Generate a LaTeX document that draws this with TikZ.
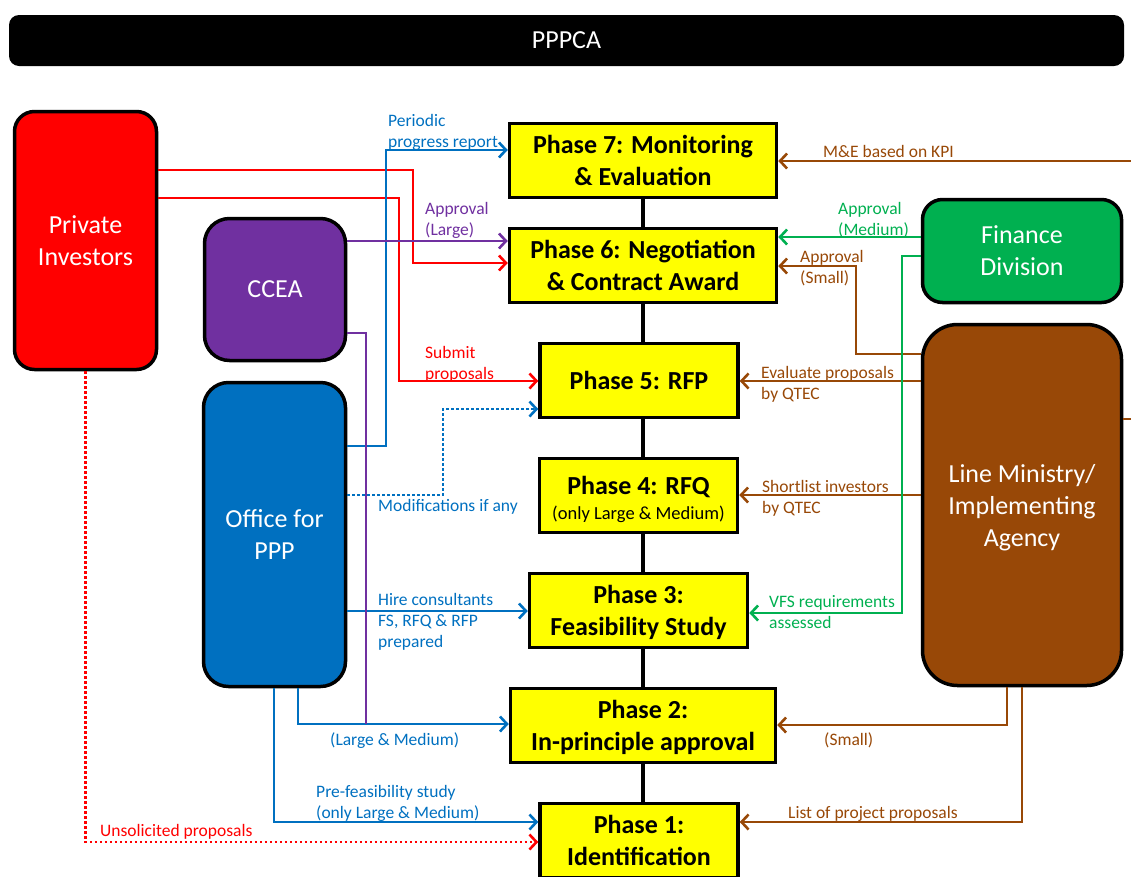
\documentclass[tikz,border=0pt]{standalone}
\usepackage{fontspec}
\setmainfont{Carlito}
\usetikzlibrary{arrows.meta}

\definecolor{cred}{HTML}{FF0000}
\definecolor{cpurple}{HTML}{7030A0}
\definecolor{cblue}{HTML}{0070C0}
\definecolor{cgreen}{HTML}{00B050}
\definecolor{cbrown}{HTML}{984807}
\definecolor{cyellow}{HTML}{FFFF00}

% fixed line heights inside the phase boxes
\newcommand\phtop{\rule{0pt}{25pt}}
\newcommand\phbot{\rule[-7pt]{0pt}{7pt}}

\begin{document}
\begin{tikzpicture}[x=1pt,y=-1pt,
  phase/.style={draw=black, line width=3.5pt, fill=cyellow, inner sep=0pt,
    align=center, font=\bfseries\fontsize{26}{32}\selectfont},
  party/.style={draw=black, line width=3.5pt, rounded corners=#1, inner sep=0pt,
    align=center, text=white, font=\fontsize{26}{32}\selectfont},
  party/.default=22pt,
  chain/.style={line width=3.5pt, black},
  conn/.style={line width=2.6pt, -{Straight Barb[length=7pt,width=15pt]}},
  link/.style={line width=2.4pt},
  dotline/.style={dash pattern=on 2.5pt off 2.5pt},
  lbl/.style={inner sep=0pt, anchor=base west, align=left,
    font=\fontsize{17.5}{21}\selectfont},
]
\useasboundingbox (0,0) rectangle (1131,876);
\clip (0,0) rectangle (1131,876);

% title bar
\node[party=10pt, draw=none, fill=black, minimum width=1115pt, minimum height=51pt]
  (title) at (566.5,40.5) {PPPCA};

% project phases
\node[phase, minimum width=267pt, minimum height=74pt] (p7) at (643,160.5)
  {\phtop Phase 7: Monitoring\\\& Evaluation\phbot};
\node[phase, minimum width=267pt, minimum height=74pt] (p6) at (643,265.5)
  {\phtop Phase 6: Negotiation\\\& Contract Award\phbot};
\node[phase, minimum width=198pt, minimum height=74pt] (p5) at (639,380.5)
  {Phase 5: RFP};
\node[phase, minimum width=198pt, minimum height=74pt] (p4) at (638.5,495.5)
  {\rule{0pt}{27pt}Phase 4: RFQ\\[-7pt]{\mdseries\fontsize{18.5}{22}\selectfont (only Large \& Medium)}};
\node[phase, minimum width=218pt, minimum height=74pt] (p3) at (638.5,610.5)
  {\phtop Phase 3:\\Feasibility Study\phbot};
\node[phase, minimum width=265pt, minimum height=74pt] (p2) at (643,725.5)
  {\phtop Phase 2:\\In-principle approval\phbot};
\node[phase, minimum width=198pt, minimum height=74pt] (p1) at (639,840.5)
  {\phtop Phase 1:\\Identification\phbot};

\foreach \a/\b in {p7/p6,p6/p5,p5/p4,p4/p3,p3/p2,p2/p1}
  \draw[chain] (p7.south |- \a.south) -- (p7.south |- \b.north);

% parties
\node[party=20pt, fill=cred, minimum width=142pt, minimum height=258pt]
  (pi) at (85.5,240.5) {Private\\Investors};
\node[party=25pt, fill=cpurple, minimum width=141pt, minimum height=142pt]
  (ccea) at (275,289.5) {CCEA};
\node[party=25pt, fill=cblue, minimum width=142pt, minimum height=304pt]
  (office) at (274.5,534.5) {Office for\\PPP};
\node[party=20pt, fill=cgreen, minimum width=199pt, minimum height=103pt]
  (fin) at (1022,251) {Finance\\Division};
\node[party=35pt, fill=cbrown, minimum width=199pt, minimum height=361pt]
  (lm) at (1022,505) {\rule{0pt}{24pt}Line Ministry/\\Implementing\\Agency};

% private investors
\draw[conn, cred] (pi.east |- 0,170) -- (413,170) |- (p6.west |- 0,263);
\draw[conn, cred] (pi.east |- 0,198) -- (399,198) |- (p5.west |- 0,381);
\draw[conn, cred, dotline] (pi.south) |- (p1.west |- 0,842);

% office for PPP
\draw[conn, cblue] (office.east |- 0,446) -- (386,446) |- (p7.west |- 0,150);
\draw[conn, cblue, dotline] (office.east |- 0,495) -- (443,495) |- (p5.west |- 0,409);
\draw[conn, cblue] (office.east |- 0,611) -- (p3.west |- 0,611);
\draw[conn, cblue] (office.south -| 298,0) |- (p2.west |- 0,724);
\draw[conn, cblue] (office.south -| 274,0) |- (p1.west |- 0,822);

% CCEA
\draw[conn, cpurple] (ccea.east |- 0,241) -- (p6.west |- 0,241);
\draw[link, cpurple] (ccea.east |- 0,333) -| (366,724);

% finance division
\draw[conn, cgreen] (fin.west |- 0,237) -- (p6.east |- 0,237);

% line ministry
\draw[conn, cbrown] (lm.east |- 0,419) -- (1140,419) |- (p7.east |- 0,161);
\draw[conn, cbrown] (lm.west |- 0,354) -- (856,354) |- (p6.east |- 0,266);
\draw[conn, cbrown] (lm.west |- 0,381) -- (p5.east |- 0,381);
\draw[conn, cbrown] (lm.west |- 0,495) -- (p4.east |- 0,495);
\draw[conn, cbrown] (lm.south -| 1007,0) |- (p2.east |- 0,725);
\draw[conn, cbrown] (lm.south -| 1022,0) |- (p1.east |- 0,822);

\draw[conn, cgreen] (fin.west |- 0,256) -- (902,256) |- (p3.east |- 0,613);

% connector labels (anchored at the baseline of the last line)
\node[lbl, cblue] (t-periodic) at (388,147) {Periodic\\progress report};
\node[lbl, cbrown] (t-me) at (823,157) {M\&E based on KPI};
\node[lbl, cpurple] (t-large) at (425,235) {Approval\\(Large)};
\node[lbl, cgreen] (t-medium) at (838,235) {Approval\\(Medium)};
\node[lbl, cbrown] (t-small) at (800,283) {Approval\\(Small)};
\node[lbl, cred] (t-submit) at (425,379) {Submit\\proposals};
\node[lbl, cbrown] (t-evaluate) at (761,399) {Evaluate proposals\\by QTEC};
\node[lbl, cblue] (t-modif) at (378,511) {Modifications if any};
\node[lbl, cbrown] (t-shortlist) at (762,513) {Shortlist investors\\by QTEC};
\node[lbl, cblue] (t-hire) at (378,647) {Hire consultants\\FS, RFQ \& RFP\\prepared};
\node[lbl, cgreen] (t-vfs) at (769,628) {VFS requirements\\assessed};
\node[lbl, cblue] (t-lm) at (330,745) {(Large \& Medium)};
\node[lbl, cbrown] (t-sm) at (824,745) {(Small)};
\node[lbl, cblue] (t-prefs) at (316,818) {Pre-feasibility study\\(only Large \& Medium)};
\node[lbl, cbrown] (t-list) at (788,818) {List of project proposals};
\node[lbl, cred] (t-unsol) at (100,836) {Unsolicited proposals};
\end{tikzpicture}
\end{document}
